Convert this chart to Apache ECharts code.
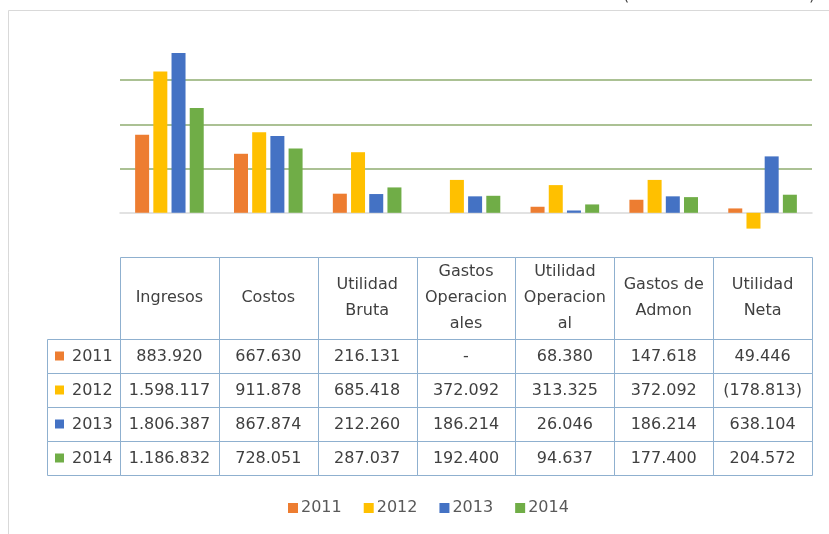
<!DOCTYPE html>
<html>
<head>
<meta charset="utf-8">
<script src="https://cdn.jsdelivr.net/npm/echarts@6/dist/echarts.min.js"></script>
<style>
  html, body { margin: 0; padding: 0; background: #fff; }
  #main { width: 829px; height: 534px; }
</style>
</head>
<body>
<div id="main"></div>
<script>
var categories = ['Ingresos', 'Costos', 'Utilidad Bruta', 'Gastos Operacionales', 'Utilidad Operacional', 'Gastos de Admon', 'Utilidad Neta'];
var headerLabels = ['Ingresos', 'Costos', 'Utilidad\nBruta', 'Gastos\nOperacion\nales', 'Utilidad\nOperacion\nal', 'Gastos de\nAdmon', 'Utilidad\nNeta'];
var years = ['2011', '2012', '2013', '2014'];
var v2011 = [883920, 667630, 216131, 0, 68380, 147618, 49446];
var v2012 = [1598117, 911878, 685418, 372092, 313325, 372092, -178813];
var v2013 = [1806387, 867874, 212260, 186214, 26046, 186214, 638104];
var v2014 = [1186832, 728051, 287037, 192400, 94637, 177400, 204572];
var gridValues = [500000, 1000000, 1500000];

var colors = ['#ED7D31', '#FFC000', '#4472C4', '#70AD47'];
var values = [v2011, v2012, v2013, v2014];
var font = '"DejaVu Sans", sans-serif';

// numero con separador de miles "." y negativos entre parentesis
function fmt(v) {
    if (v === 0) return '-';
    var s = String(Math.abs(v)).replace(/\B(?=(\d{3})+(?!\d))/g, '.');
    return v < 0 ? '(' + s + ')' : s;
}

// tabla de datos bajo el grafico
var tLeft = 120, tRight = 812, rhLeft = 47;
var tTop = 257, headH = 82, rowH = 34;
var colW = (tRight - tLeft) / 7;
var lineColor = '#8fb0cf';
var graphics = [];

function cell(x, y, w, h) {
    graphics.push({
        type: 'rect', silent: true,
        shape: { x: Math.round(x) + 0.5, y: Math.round(y) + 0.5, width: Math.round(x + w) - Math.round(x), height: Math.round(y + h) - Math.round(y) },
        style: { fill: 'none', stroke: lineColor, lineWidth: 1 }
    });
}
function txt(s, x, y, align) {
    graphics.push({
        type: 'text', silent: true,
        style: { text: s, x: x, y: y, textAlign: align || 'center', textVerticalAlign: 'middle', fill: '#404040', font: '16px ' + font, lineHeight: 26 }
    });
}

// marco exterior del grafico
graphics.push({
    type: 'rect', silent: true,
    shape: { x: 8.5, y: 10.5, width: 900, height: 600 },
    style: { fill: 'none', stroke: '#d9d9d9', lineWidth: 1 }
});
txt('(', 626, -4);
txt(')', 812, -4);

for (var c = 0; c < 7; c++) {
    var x = tLeft + c * colW;
    cell(x, tTop, colW, headH);
    txt(headerLabels[c], x + colW / 2, tTop + headH / 2);
}
for (var r = 0; r < 4; r++) {
    var y = tTop + headH + r * rowH;
    cell(rhLeft, y, tLeft - rhLeft, rowH);
    graphics.push({
        type: 'rect', silent: true,
        shape: { x: 55, y: y + rowH / 2 - 4.5, width: 9, height: 9 },
        style: { fill: colors[r] }
    });
    txt(years[r], 72, y + rowH / 2 + 1, 'left');
    for (var c = 0; c < 7; c++) {
        var x = tLeft + c * colW;
        cell(x, y, colW, rowH);
        txt(fmt(values[r][c]), x + colW / 2, y + rowH / 2 + 1);
    }
}

var series = years.map(function (yr, i) {
    var s = {
        name: yr,
        type: 'bar',
        data: values[i],
        barWidth: 14,
        barGap: '30%',
        itemStyle: { color: colors[i] },
        z: 2
    };
    if (i === 3) {
        s.markLine = {
            silent: true,
            symbol: 'none',
            z: 1,
            label: { show: false },
            lineStyle: { color: '#8fad70', width: 1.5, type: 'solid' },
            data: gridValues.map(function (v) { return { yAxis: v }; })
        };
    }
    return s;
});

var myChart = echarts.init(document.getElementById('main'));
var option = {
    animation: false,
    backgroundColor: '#fff',
    grid: { left: 120, right: 17, top: 36, bottom: 277 },
    legend: {
        data: years,
        bottom: 13,
        left: 283,
        icon: 'rect',
        itemWidth: 10,
        itemHeight: 10,
        itemGap: 22,
        textStyle: { fontFamily: font, fontSize: 16, color: '#595959', padding: [0, 0, 0, -2] }
    },
    xAxis: {
        type: 'category',
        data: categories,
        axisLine: { lineStyle: { color: '#d9d9d9', width: 1.5 } },
        axisTick: { show: false },
        axisLabel: { show: false }
    },
    yAxis: {
        type: 'value',
        min: -500000,
        max: 2000000,
        interval: 500000,
        show: false
    },
    series: series,
    graphic: graphics
};
myChart.setOption(option);
</script>
</body>
</html>
